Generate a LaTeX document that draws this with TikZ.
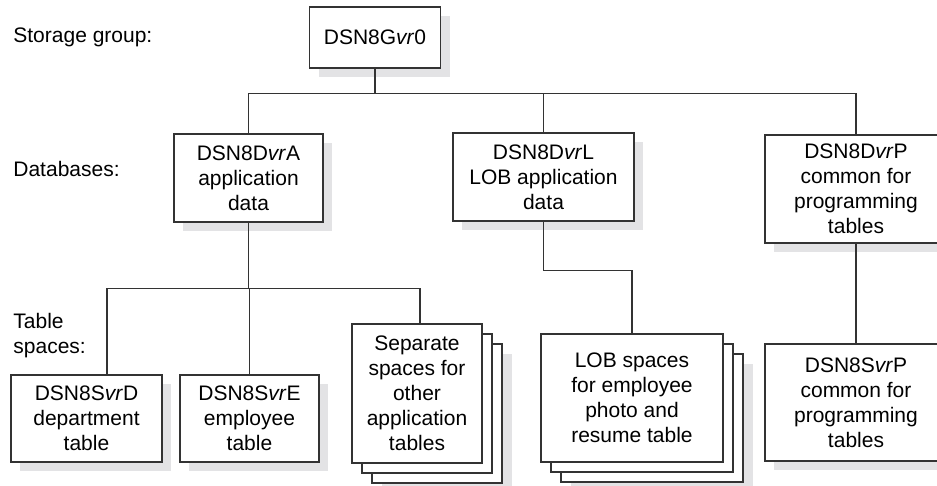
\documentclass[tikz,border=0pt]{standalone}
\usepackage{fontspec}
\setmainfont{Liberation Sans}
\definecolor{linegray}{HTML}{333333}
\definecolor{dropgray}{HTML}{E3E3E5}
\tikzset{
  lbl/.style={inner sep=0pt,font=\fontsize{10.5}{12.5}\selectfont},
  box/.style={draw=linegray,line width=0.65pt,fill=white,align=center,inner sep=2pt,
    font=\fontsize{10.5}{12.5}\selectfont},
  stackbox/.style={box,
    preaction={fill=white,draw=linegray,transform canvas={xshift=10pt,yshift=-10pt}},
    preaction={fill=white,draw=linegray,transform canvas={xshift=5pt,yshift=-5pt}}},
  link/.style={draw=linegray,line width=0.65pt}
}
\begin{document}
\begin{tikzpicture}[x=0.5pt,y=-0.5pt]
  \useasboundingbox (0,0) rectangle (937,486);
  \fill[dropgray] (318.5,16) rectangle (449.5,77);
  \fill[dropgray] (183,143) rectangle (332,231);
  \fill[dropgray] (462,142) rectangle (643,230);
  \fill[dropgray] (774,144) rectangle (956,252);
  \fill[dropgray] (20,384) rectangle (171,471);
  \fill[dropgray] (189,384) rectangle (328,471);
  \fill[dropgray] (774,353) rectangle (956,470);
  \fill[dropgray] (382,354) rectangle (512,493);
  \fill[dropgray] (571,364) rectangle (753,492);

  \node[lbl,anchor=west] (sg) at (13,37) {Storage group:};
  \node[lbl,anchor=west] (dbs) at (13,169) {Databases:};
  \node[lbl,anchor=west,align=left] (tsp) at (13,336) {Table\\spaces:};

  \node[box,minimum width=65.5pt,minimum height=30.5pt] (grp) at (375,37.5) {DSN8G\textit{vr}0};
  \node[box,minimum width=74.5pt,minimum height=44pt] (dba) at (248.5,178) {DSN8D\textit{vr}A\\application\\data};
  \node[box,minimum width=90.5pt,minimum height=44pt] (dbl) at (543.5,177) {DSN8D\textit{vr}L\\LOB application\\data};
  \node[box,minimum width=91pt,minimum height=54pt] (dbp) at (856,189) {DSN8D\textit{vr}P\\common for\\programming\\tables};
  \node[box,minimum width=75.5pt,minimum height=43.5pt] (tsd) at (86.5,418.5) {DSN8S\textit{vr}D\\department\\table};
  \node[box,minimum width=69.5pt,minimum height=43.5pt] (tse) at (249.5,418.5) {DSN8S\textit{vr}E\\employee\\table};
  \node[stackbox,minimum width=65pt,minimum height=69.5pt] (tss) at (417,393.5) {Separate\\spaces for\\other\\application\\tables};
  \node[stackbox,minimum width=91pt,minimum height=64pt] (tsl) at (632,398) {LOB spaces\\for employee\\photo and\\resume table};
  \node[box,minimum width=91pt,minimum height=58.5pt] (tsp2) at (856,402.5) {DSN8S\textit{vr}P\\common for\\programming\\tables};

  \draw[link] (grp.south) -- ++(0,25) coordinate (bus1);
  \draw[link] (dba.north) |- (bus1) -| (dbp.north);
  \draw[link] (dbl.north) -- (dbl.north |- bus1);
  \draw[link] (dba.south) -- ++(0,66) coordinate (bus2);
  \draw[link] ([xshift=10.25pt]tsd.north) |- (bus2) -| ([xshift=1.5pt]tss.north);
  \draw[link] (tse.north) -- (tse.north |- bus2);
  \draw[link] (dbl.south) -- ++(0,49) -| (tsl.north);
  \draw[link] (dbp.south) -- (tsp2.north);
\end{tikzpicture}
\end{document}
